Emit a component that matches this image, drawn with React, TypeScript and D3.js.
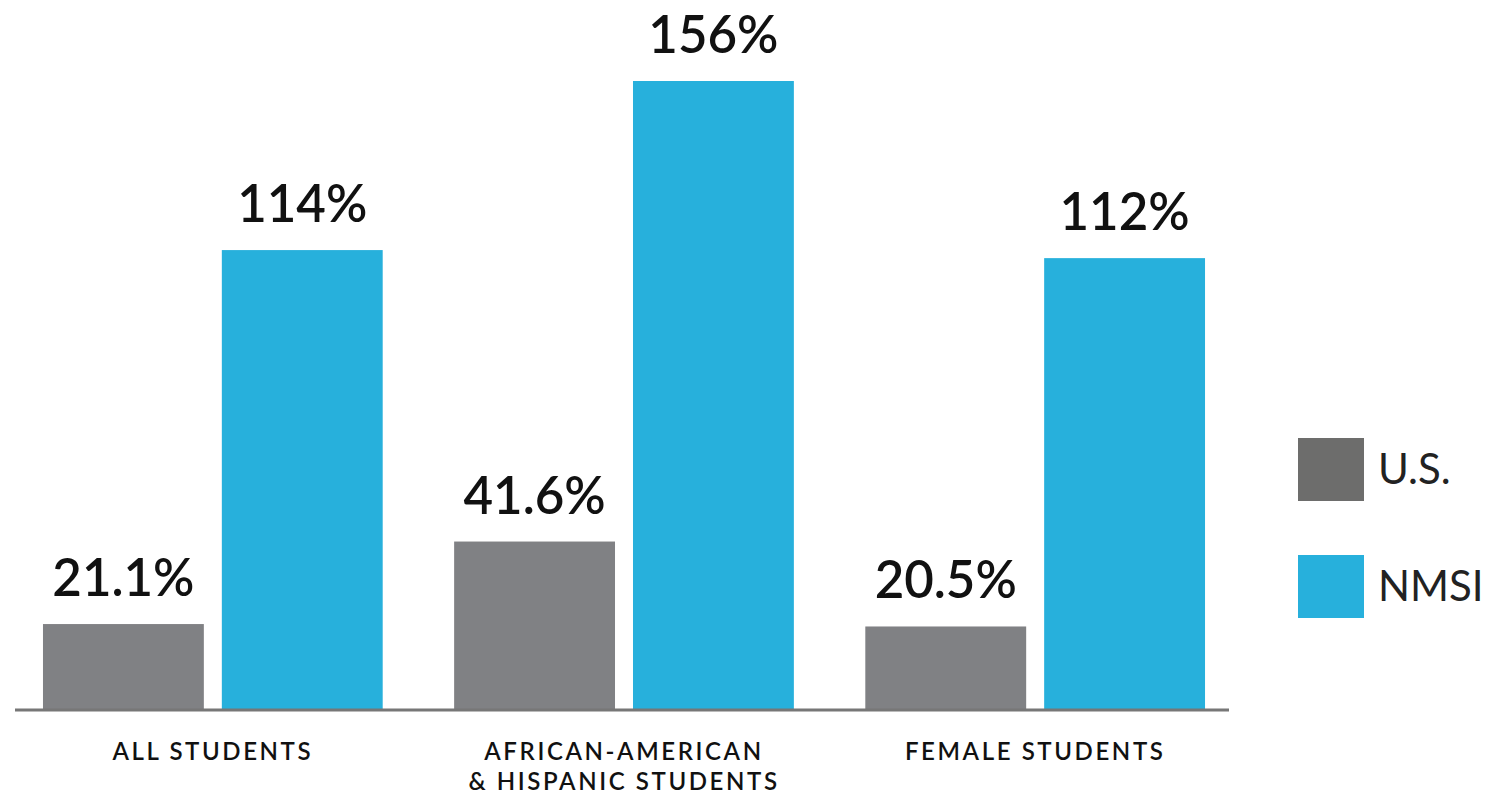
import React from "react";
import * as d3 from "d3";

const categories = ["ALL STUDENTS", "AFRICAN-AMERICAN\n& HISPANIC STUDENTS", "FEMALE STUDENTS"];
const seriesNames = ["U.S.", "NMSI"];
const usValues = [21.1, 41.6, 20.5];
const nmsiValues = [114, 156, 112];
const valueLabels = [["21.1%", "41.6%", "20.5%"], ["114%", "156%", "112%"]];
const barColors = ["#808184", "#27b0dc"];
const legendColors = ["#6d6d6c", "#27b0dc"];

const W = 1494;
const H = 796;
const FONT = "Lato, 'Open Sans', sans-serif";

export default function App() {
  const x = d3
    .scaleBand<number>()
    .domain(d3.range(categories.length))
    .range([7.25, 1240.75])
    .paddingInner(71.5 / 411.5)
    .paddingOuter((71.5 / 411.5) / 2);
  const x1 = d3.scaleBand<number>().domain([0, 1]).range([0, x.bandwidth()]).paddingInner(18 / 179);
  const y = d3.scaleLinear().domain([0, 156]).range([709, 81]);
  const series = [usValues, nmsiValues];

  return (
    <svg width={W} height={H} style={{ position: "absolute", left: 0, top: 0, background: "#fff" }}>
      {categories.map((c, i) => (
        <g key={i} transform={`translate(${x(i)},0)`}>
          {series.map((vals, s) => (
            <g key={s}>
              <rect
                x={x1(s)}
                y={y(vals[i])}
                width={x1.bandwidth()}
                height={y(0) - y(vals[i])}
                fill={barColors[s]}
              />
              <text
                x={(x1(s) as number) + x1.bandwidth() / 2}
                y={y(vals[i]) - 28}
                textAnchor="middle"
                fontFamily={FONT}
                fontWeight={600}
                fontSize={51}
                fill="#111"
              >
                {valueLabels[s][i]}
              </text>
            </g>
          ))}
          <text
            x={x.bandwidth() / 2}
            y={760}
            textAnchor="middle"
            fontFamily={FONT}
            fontWeight={600}
            fontSize={24}
            letterSpacing={2.6}
            fill="#111"
          >
            {c.split("\n").map((line, k) => (
              <tspan key={k} x={x.bandwidth() / 2} dy={k === 0 ? 0 : 30}>
                {line}
              </tspan>
            ))}
          </text>
        </g>
      ))}
      <line x1={15} x2={1229} y1={y(0) + 1} y2={y(0) + 1} stroke="#777" strokeWidth={3} />
      {seriesNames.map((n, s) => (
        <g key={n} transform={`translate(1298,${438 + s * 117})`}>
          <rect width={66} height={63} fill={legendColors[s]} />
          <text x={80} y={46} fontFamily={FONT} fontWeight={400} fontSize={42} fill="#222">
            {n}
          </text>
        </g>
      ))}
    </svg>
  );
}
